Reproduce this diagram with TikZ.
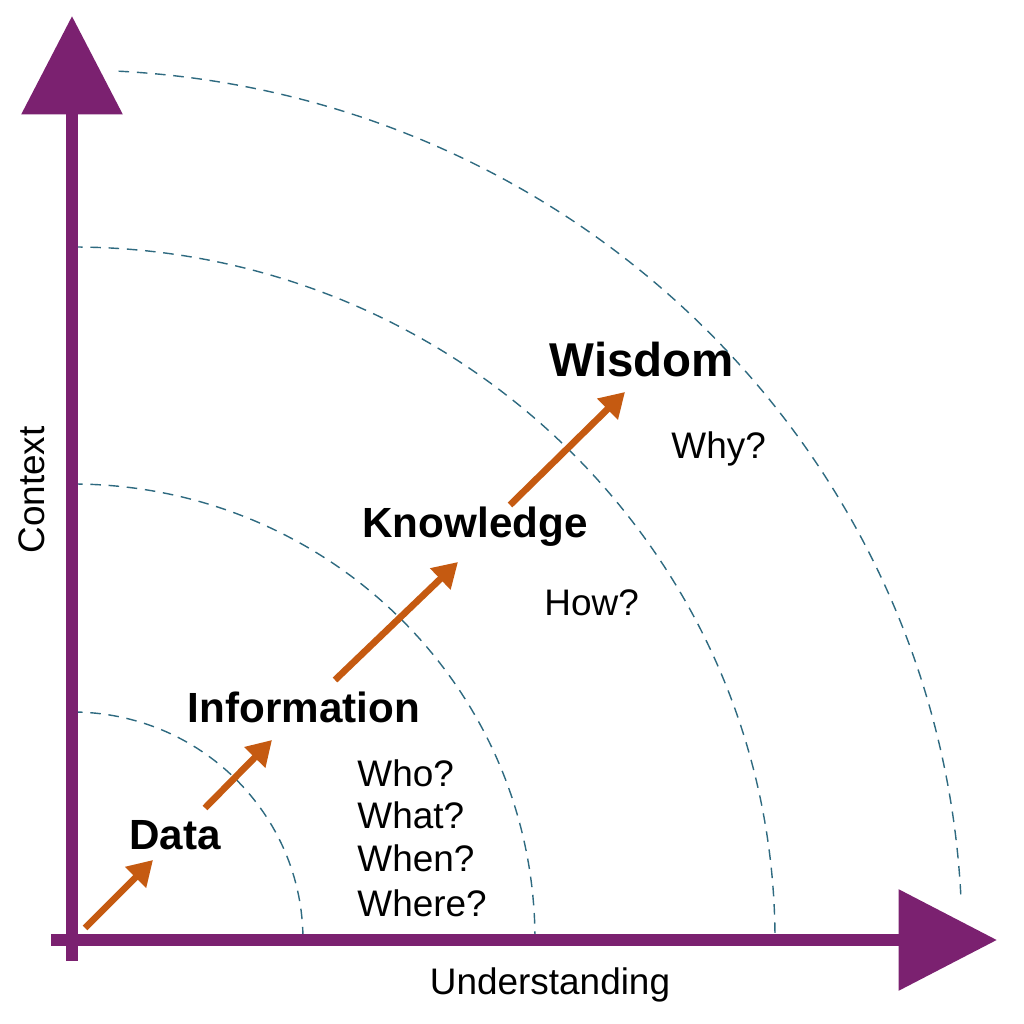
\documentclass[tikz,border=0pt]{standalone}
\usepackage{fontspec}
\setmainfont{Liberation Sans}
\usetikzlibrary{arrows.meta}
\definecolor{axispurple}{HTML}{7B2170}
\definecolor{steparrow}{HTML}{C55A11}
\definecolor{arcblue}{HTML}{2E6A80}

\begin{document}
\begin{tikzpicture}[x=0.01cm, y=0.01cm, line join=round,
    axis/.style={axispurple, line width=3.4pt, -{Triangle[length=28pt, width=28pt]}},
    climb/.style={steparrow, line width=1.9pt, -{Triangle[length=7pt, width=8pt]}},
    ring/.style={arcblue, thin, dash pattern=on 3pt off 2.2pt},
    level/.style={font=\fontsize{12}{14}\selectfont\bfseries},
    question/.style={font=\fontsize{10.5}{12}\selectfont, anchor=west}]

    \useasboundingbox (0,0) rectangle (1024,1024);

    % Rings
    \draw[ring] (72,312) arc[start angle=90, end angle=0, x radius=231, y radius=228];
    \draw[ring] (72,540) arc[start angle=90, end angle=0, x radius=463, y radius=456];
    \draw[ring] (72,777) arc[start angle=90, end angle=0, x radius=703, y radius=693];
    \draw[ring] (72,84) ++(87:890 and 870) arc[start angle=87, end angle=3, x radius=890, y radius=870];

    % Axes
    \coordinate (O) at (72,84);
    \coordinate (top) at (72,1008);
    \coordinate (right) at (997,84);
    \draw[axis] ([yshift=-6]O) -- (top);
    \draw[axis] ([xshift=-6]O) -- (right);
    \node[rotate=90, font=\fontsize{10.5}{12}\selectfont] (context) at (32,534) {Context};
    \node[font=\fontsize{10.5}{12}\selectfont] (understanding) at (550,39) {Understanding};

    % Levels
    \node[level] (data) at (175,189) {Data};
    \node[level] (info) at (304,317) {Information};
    \node[level] (know) at (475,497) {Knowledge};
    \node[level, font=\fontsize{13.5}{16}\selectfont\bfseries] (wisdom) at (642,664) {Wisdom};

    \coordinate (d0) at (85,96);   \coordinate (d1) at (153,164);
    \coordinate (i0) at (205,216); \coordinate (i1) at (272,284);
    \coordinate (k0) at (335,344); \coordinate (k1) at (458,462);
    \coordinate (w0) at (510,519); \coordinate (w1) at (625,632);
    \foreach \a in {d,i,k,w} {
        \draw[climb] (\a0) -- (\a1);
    }

    % Questions
    \foreach \q/\y in {Who?/251, What?/209, When?/166, Where?/121} {
        \node[question] at (345,\y) {\q};
    }
    \node[question] (how) at (532,421) {How?};
    \node[question] (why) at (659,575) {Why?};

\end{tikzpicture}
\end{document}
